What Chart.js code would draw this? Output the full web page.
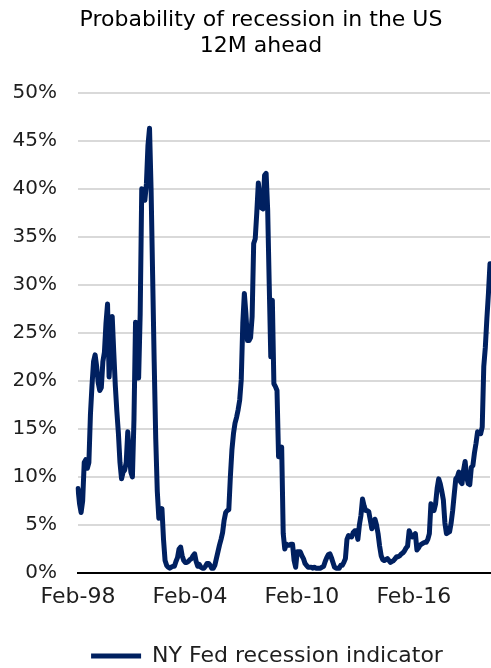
<!DOCTYPE html>
<html>
<head>
<meta charset="utf-8">
<script src="https://cdn.jsdelivr.net/npm/chart.js@4.4.1/dist/chart.umd.min.js"></script>
<style>
  html, body { margin: 0; padding: 0; background: #fff; overflow: hidden; }
  #wrap { width: 491px; height: 668px; position: relative; }
</style>
</head>
<body>
<div id="wrap"><canvas id="myChart"></canvas></div>
<script>
// NY Fed probability of US recession 12M ahead, monthly from Feb-98 (in %)
var recessionProb = [
    8.8, 7.2, 6.3, 7.5, 11.5, 11.8, 10.9, 11.5, 16.5, 19.5,
    22.0, 22.7, 21.5, 19.8, 19.0, 19.3, 22.0, 23.0, 26.0, 28.0,
    20.4, 23.5, 26.7, 23.0, 19.5, 16.8, 14.5, 11.5, 9.8, 10.5,
    10.7, 11.5, 14.7, 12.5, 10.5, 10.0, 16.0, 26.1, 22.0, 20.3,
    27.0, 40.0, 39.5, 38.8, 40.5, 44.5, 46.3, 40.0, 31.0, 22.0,
    14.0, 8.5, 5.7, 5.8, 6.7, 3.5, 1.3, 0.8, 0.6, 0.5,
    0.6, 0.7, 0.7, 1.2, 1.6, 2.5, 2.7, 1.8, 1.3, 1.1,
    1.1, 1.2, 1.4, 1.5, 1.8, 2.0, 1.2, 0.7, 0.9, 0.6,
    0.5, 0.5, 0.7, 1.0, 1.0, 0.8, 0.5, 0.5, 0.8, 1.5,
    2.2, 2.9, 3.5, 4.2, 5.5, 6.3, 6.5, 6.6, 10.0, 12.8,
    14.5, 15.6, 16.2, 17.0, 18.0, 20.1, 26.0, 29.1, 27.0, 24.2,
    24.2, 24.5, 26.7, 34.3, 34.8, 37.5, 40.6, 39.0, 38.0, 37.9,
    41.4, 41.6, 37.8, 30.0, 22.5, 28.4, 19.7, 19.4, 19.0, 12.1,
    12.5, 13.1, 4.1, 2.5, 3.0, 2.9, 2.9, 3.0, 3.0, 1.3,
    0.6, 2.2, 2.2, 2.2, 1.8, 1.5, 1.0, 0.8, 0.6, 0.6,
    0.6, 0.5, 0.6, 0.5, 0.5, 0.5, 0.5, 0.6, 0.7, 1.2,
    1.6, 1.9, 2.0, 1.6, 1.1, 0.6, 0.5, 0.5, 0.5, 0.8,
    0.8, 1.1, 1.5, 3.5, 3.9, 3.8, 3.75, 4.2, 4.4, 4.4,
    3.5, 5.0, 6.0, 7.7, 7.0, 6.5, 6.5, 6.4, 5.5, 4.6,
    5.0, 5.6, 5.0, 4.1, 2.8, 1.8, 1.4, 1.3, 1.4, 1.5,
    1.3, 1.1, 1.2, 1.3, 1.5, 1.7, 1.7, 1.8, 2.0, 2.1,
    2.3, 2.6, 2.8, 4.4, 4.0, 3.75, 3.9, 4.1, 2.4, 2.6,
    2.9, 3.0, 3.1, 3.2, 3.2, 3.5, 4.1, 7.2, 6.8, 6.5,
    7.2, 8.8, 9.8, 9.3, 8.5, 7.6, 5.2, 4.1, 4.2, 4.3,
    5.2, 6.5, 8.2, 9.8, 10.0, 10.5, 9.5, 9.3, 10.7, 11.6,
    10.0, 9.3, 9.2, 11.0, 11.2, 12.5, 13.5, 14.7, 14.6, 14.5,
    15.2, 21.5, 23.5, 26.5, 29.1, 32.2
]

var tickLabels = ['Feb-98', 'Feb-04', 'Feb-10', 'Feb-16']
var yTicks = [0, 5, 10, 15, 20, 25, 30, 35, 40, 45, 50]

// month labels, one per data point
var monthNames = ['Jan', 'Feb', 'Mar', 'Apr', 'May', 'Jun',
                  'Jul', 'Aug', 'Sep', 'Oct', 'Nov', 'Dec']
var categories = []
for (var i = 0; i < recessionProb.length; i++) {
    var m = (1 + i) % 12
    var yr = 1998 + Math.floor((1 + i) / 12)
    categories.push(monthNames[m] + '-' + String(yr).slice(2))
}

var navy = '#002060'
var textColor = '#1e1e1e'
Chart.defaults.font.family = '"DejaVu Sans", Verdana, sans-serif'

// title and legend sit a bit right of the canvas centre in the original
var nudgeBoxes = {
    id: 'nudgeBoxes',
    afterLayout: function(chart) {
        chart.titleBlock.left += 10
        chart.titleBlock.right += 10
        chart.legend.left += 16
        chart.legend.right += 16
    }
}

var ctx = document.getElementById('myChart')

var myChart = new Chart(ctx, {
    type: 'line',
    data: {
        labels: categories,
        datasets: [{
            label: 'NY Fed recession indicator',
            data: recessionProb,
            borderColor: navy,
            backgroundColor: navy,
            borderWidth: 5,
            borderCapStyle: 'round',
            borderJoinStyle: 'round',
            pointRadius: 0,
            tension: 0,
            fill: false
        }]
    },
    plugins: [nudgeBoxes],
    options: {
        responsive: true,
        maintainAspectRatio: false,
        devicePixelRatio: 1,
        animation: false,
        layout: {
            padding: { left: 12, right: 1, top: 7, bottom: -9 }
        },
        plugins: {
            title: {
                display: true,
                text: ['Probability of recession in the US', '12M ahead'],
                color: '#000',
                font: { size: 22, weight: 'normal', lineHeight: 1.18 },
                padding: { top: 0, bottom: 33.7 }
            },
            legend: {
                position: 'bottom',
                labels: {
                    usePointStyle: true,
                    pointStyle: 'line',
                    pointStyleWidth: 50,
                    color: textColor,
                    font: { size: 22 },
                    padding: 0
                }
            },
            tooltip: { enabled: false }
        },
        scales: {
            x: {
                grid: { display: false, drawTicks: false },
                border: { display: true, color: '#000', width: 2 },
                ticks: {
                    autoSkip: false,
                    maxRotation: 0,
                    minRotation: 0,
                    padding: 11,
                    color: textColor,
                    font: { size: 22 },
                    callback: function(value) {
                        var lab = this.getLabelForValue(value)
                        return tickLabels.indexOf(lab) >= 0 ? lab : ''
                    }
                },
                afterFit: function(scale) {
                    scale.height = 72
                    // last month has no label, so the plot can run to the edge
                    scale.paddingRight = 0
                }
            },
            y: {
                min: yTicks[0],
                max: yTicks[yTicks.length - 1],
                grid: { color: '#d9d9d9', lineWidth: 2, drawTicks: false },
                border: { display: false },
                ticks: {
                    stepSize: 5,
                    padding: 21,
                    color: textColor,
                    font: { size: 20 },
                    callback: function(value) {
                        return value + '%'
                    }
                },
                afterFit: function(scale) {
                    scale.width = 66
                }
            }
        }
    }
})
</script>
</body>
</html>
